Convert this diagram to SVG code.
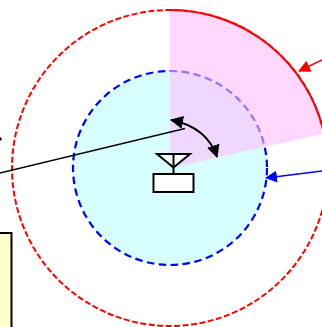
<svg xmlns="http://www.w3.org/2000/svg" width="322" height="327" viewBox="0 0 322 327">
<defs>
<marker id="hb" markerWidth="12" markerHeight="12" refX="11" refY="6" orient="auto" markerUnits="userSpaceOnUse"><path d="M0 0L12 6L0 12Z" fill="#00f"/></marker>
<marker id="hr" markerWidth="12" markerHeight="12" refX="11" refY="6" orient="auto" markerUnits="userSpaceOnUse"><path d="M0 0L12 6L0 12Z" fill="#f00"/></marker>
<marker id="hk" markerWidth="13" markerHeight="13" refX="12" refY="6.500" orient="auto" markerUnits="userSpaceOnUse"><path d="M0 0L13 6.500L0 13Z" fill="#000"/></marker>
<marker id="hs" markerWidth="13" markerHeight="13" refX="1" refY="6.500" orient="auto" markerUnits="userSpaceOnUse"><path d="M13 0L0 6.500L13 13Z" fill="#000"/></marker>
</defs>
<style>
.k{fill:none;stroke:#000;stroke-width:1.500}
.w{fill:#fff;stroke:#000;stroke-width:2}
</style>
<g id="zone-outer"><circle cx="170" cy="168" r="158" fill="none" stroke="#f00" stroke-width="2" stroke-dasharray="6 2.500"/></g>
<g id="zone-inner"><circle cx="170" cy="168" r="97" fill="#d8ffff" stroke="#00f" stroke-width="2.200" stroke-dasharray="7.500 4.500"/></g>
<g id="sector"><path d="M170 168V10A158 158 0 0 1 324 133.500Z" fill="#ffbcff" fill-opacity=".6"/><path d="M170 10A158 158 0 0 1 324 133.500" fill="none" stroke="#f00" stroke-width="2"/></g>
<g id="note"><rect x="-2" y="233" width="13.500" height="100" fill="#ffc" stroke="#000" stroke-width="2"/></g>
<g id="dot"><circle cx="0" cy="139" r="1.800" fill="#000"/></g>
<g id="antenna"><path d="M157 154H190L173.500 167.500Z" class="w"/><path d="M173.500 154V174" fill="none" stroke="#000" stroke-width="2"/><rect x="153.500" y="174" width="40" height="18" class="w"/></g>
<g id="connectors">
<path d="M322 60L299 71" stroke="#f00" stroke-width="1.500" marker-end="url(#hr)"/>
<path d="M322 171L266 178" stroke="#00f" stroke-width="1.500" marker-end="url(#hb)"/>
<path d="M-2 173.500L185 128.500" class="k"/>
<path d="M171 120Q207 127 217 157" class="k" style="stroke-width:1.800" marker-start="url(#hs)" marker-end="url(#hk)"/>
</g>
</svg>
